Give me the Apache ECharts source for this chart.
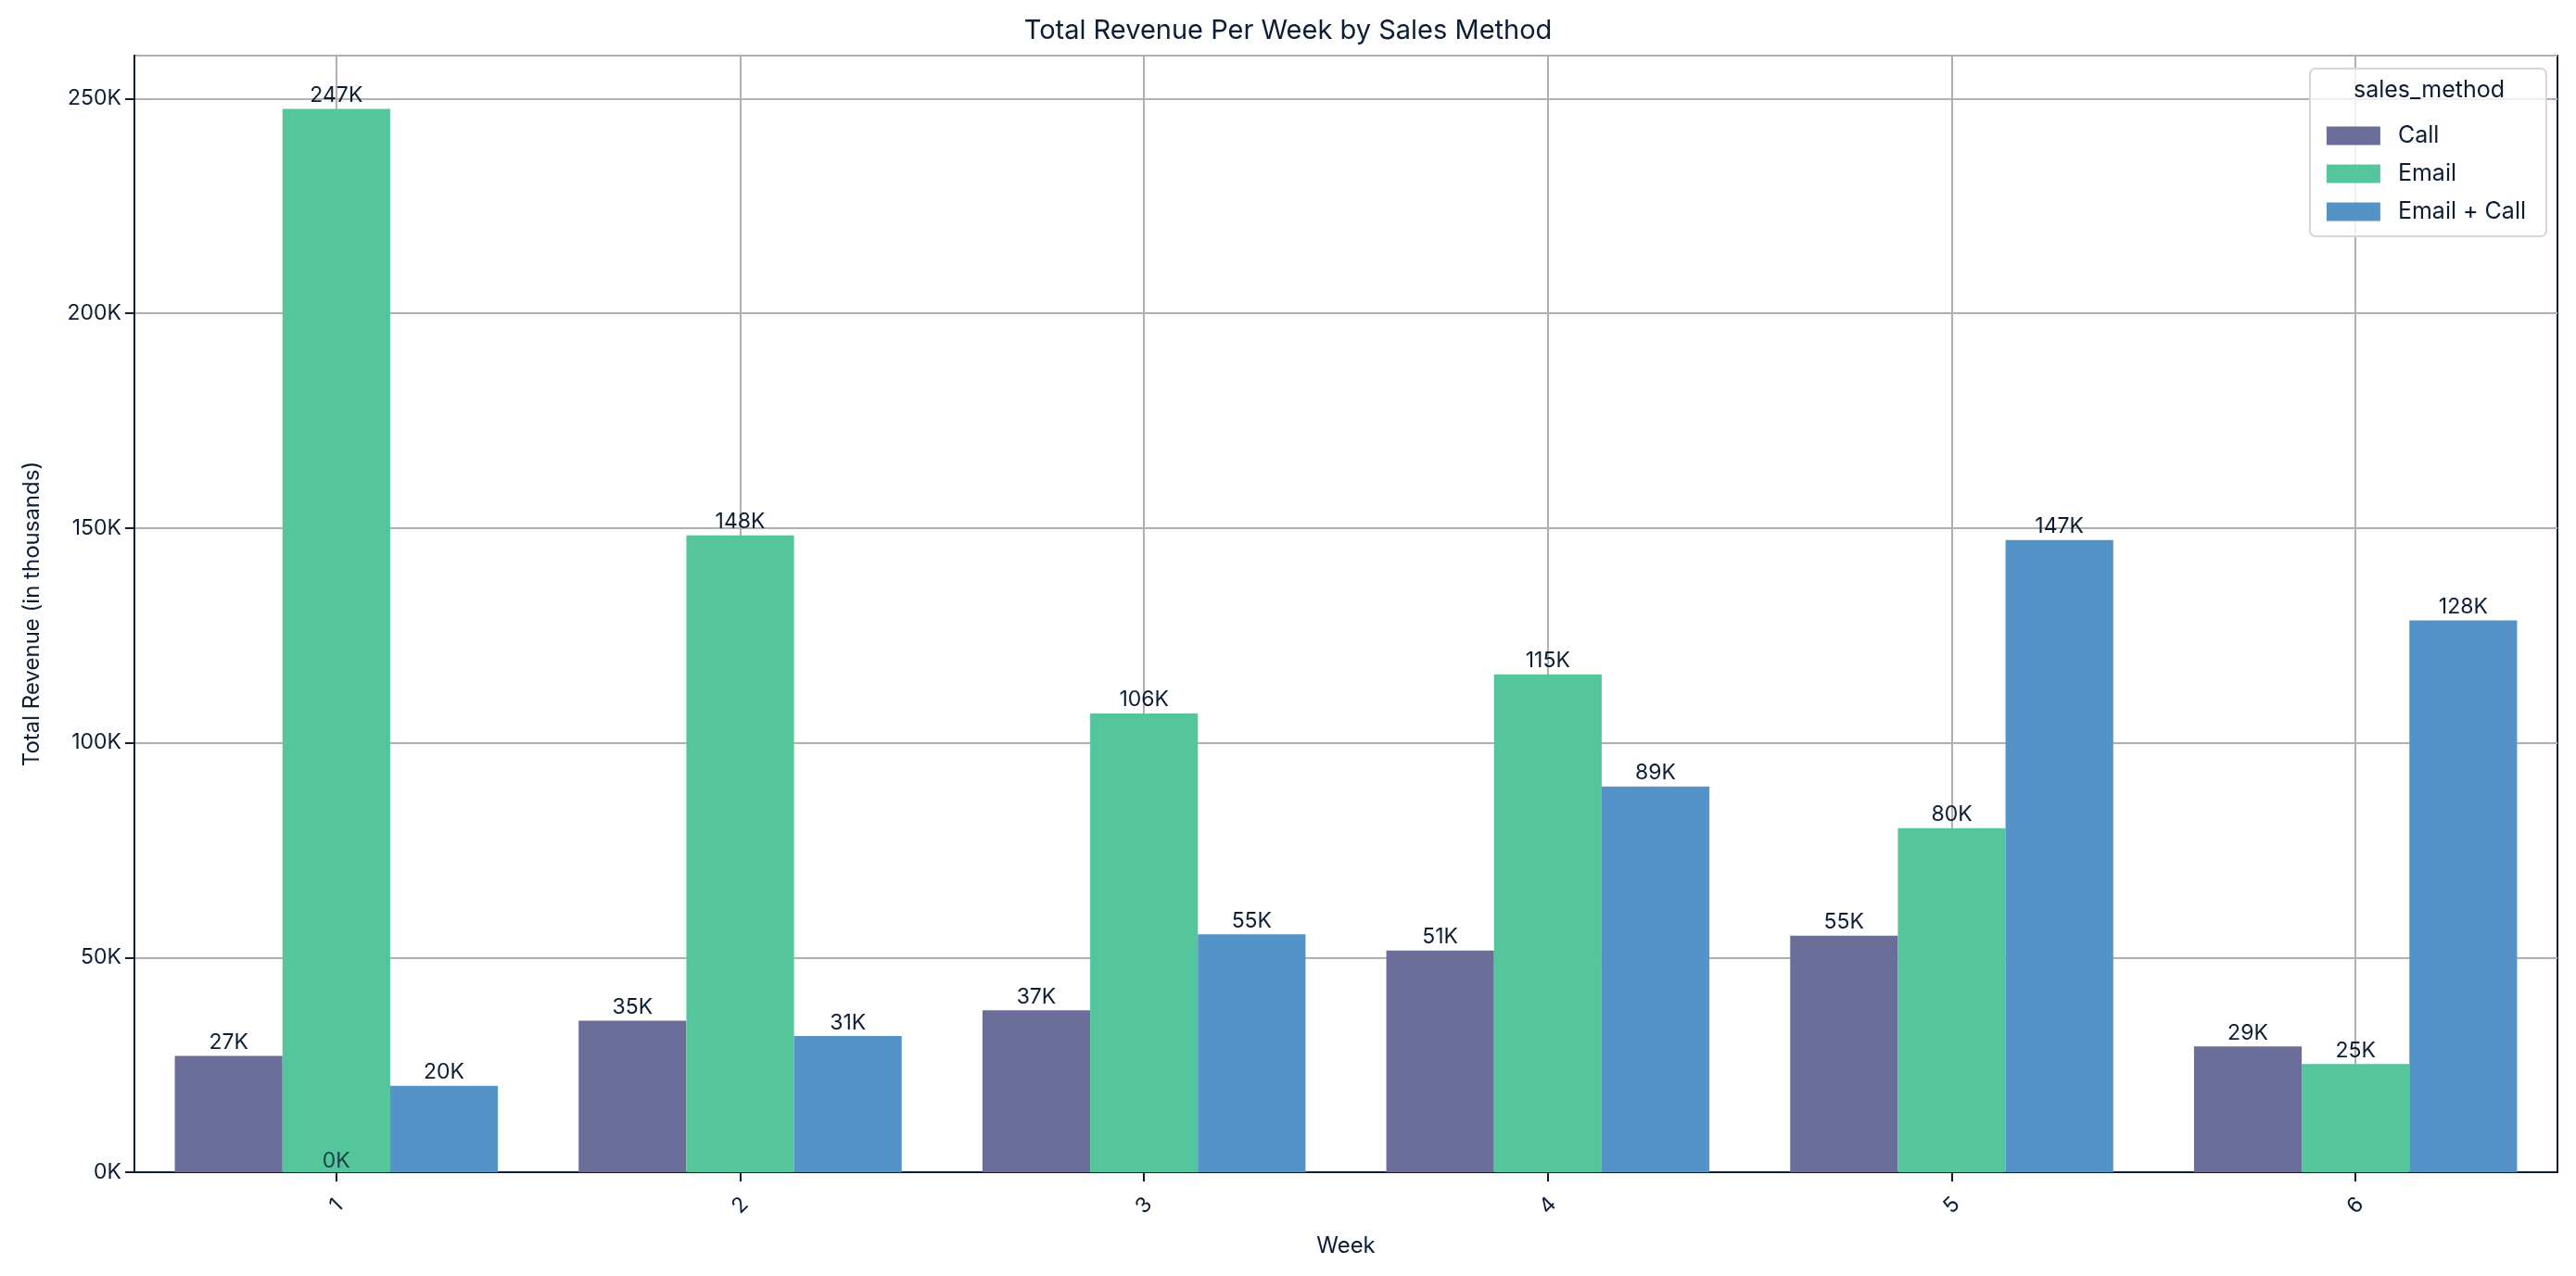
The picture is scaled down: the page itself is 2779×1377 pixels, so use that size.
<!DOCTYPE html>
<html>
<head>
<meta charset="utf-8">
<script src="https://cdn.jsdelivr.net/npm/echarts@6/dist/echarts.min.js"></script>
<style>
html,body{margin:0;padding:0;background:#fff;}
#chart{width:2779px;height:1377px;}
</style>
</head>
<body>
<div id="chart"></div>
<script>
const weeks = ['1', '2', '3', '4', '5', '6'];
const seriesNames = ['Call', 'Email', 'Email + Call'];
const callRevenue = [27100, 35300, 37700, 51600, 55100, 29300];
const emailRevenue = [247600, 148300, 106800, 115900, 80100, 25200];
const emailCallRevenue = [20100, 31700, 55400, 89800, 147200, 128500];
const zeroLabelPoints = [0, null, null, null, null, null];

const colors = ['#6C6E9A', '#55C59C', '#5493C7'];
const textColor = '#0B1D35';
const fontFamily = 'Inter, "Noto Sans", sans-serif';
const fmtK = v => Math.floor(v / 1000) + 'K';

const labelOpt = {
  show: true, position: 'top', distance: 3,
  color: textColor, fontSize: 23, fontFamily: fontFamily,
  formatter: p => fmtK(p.value)
};

const chart = echarts.init(document.getElementById('chart'));
chart.setOption({
  animation: false,
  backgroundColor: '#ffffff',
  textStyle: { fontFamily: fontFamily, color: textColor },
  title: [
    { text: 'Total Revenue Per Week by Sales Method', left: 'center', top: 14,
      textStyle: { fontSize: 29, fontWeight: 'normal', color: textColor, fontFamily: fontFamily } },
    { text: 'sales_method', right: 72, top: 80,
      textStyle: { fontSize: 25, fontWeight: 'normal', color: textColor, fontFamily: fontFamily } }
  ],
  legend: {
    data: seriesNames,
    orient: 'vertical',
    right: 32, top: 74,
    padding: [60, 22, 14, 18],
    itemGap: 16,
    itemWidth: 58, itemHeight: 20,
    icon: 'rect',
    backgroundColor: 'rgba(255,255,255,0.8)',
    borderColor: '#D6D6D6', borderWidth: 2, borderRadius: 6,
    textStyle: { fontSize: 25, color: textColor, fontFamily: fontFamily, padding: [0, 0, 0, 14] }
  },
  grid: {
    left: 145, right: 20, top: 60, bottom: 112,
    show: true, borderColor: '#0E1E33', borderWidth: 2, backgroundColor: 'transparent'
  },
  xAxis: {
    type: 'category',
    data: weeks,
    name: 'Week',
    nameLocation: 'middle',
    nameGap: 68,
    nameTextStyle: { fontSize: 24, color: textColor, fontFamily: fontFamily },
    axisLine: { show: true, lineStyle: { color: '#0E1E33', width: 2 } },
    axisTick: { show: true, alignWithLabel: true, length: 10, lineStyle: { color: '#0E1E33', width: 2 } },
    axisLabel: { rotate: 45, align: 'center', verticalAlign: 'middle', fontSize: 23, color: textColor, margin: 36 },
    splitLine: { show: true, alignWithLabel: true, lineStyle: { color: '#B0B0B0', width: 2 } }
  },
  yAxis: {
    type: 'value',
    min: 0, max: 260000, interval: 50000,
    name: 'Total Revenue (in thousands)',
    nameLocation: 'middle',
    nameGap: 98,
    nameTextStyle: { fontSize: 24, color: textColor, fontFamily: fontFamily },
    axisLine: { show: true, lineStyle: { color: '#0E1E33', width: 2 } },
    axisTick: { show: true, length: 10, lineStyle: { color: '#0E1E33', width: 2 } },
    axisLabel: { fontSize: 23, color: textColor, margin: 14, showMaxLabel: false, formatter: v => (v / 1000) + 'K' },
    splitLine: { show: true, lineStyle: { color: '#B0B0B0', width: 2 } }
  },
  series: [
    { name: seriesNames[0], type: 'bar', data: callRevenue, barGap: '0%', barCategoryGap: '20%',
      itemStyle: { color: colors[0] }, label: labelOpt, z: 2 },
    { name: seriesNames[1], type: 'bar', data: emailRevenue, barGap: '0%', barCategoryGap: '20%',
      itemStyle: { color: colors[1] }, label: labelOpt, z: 2 },
    { name: seriesNames[2], type: 'bar', data: emailCallRevenue, barGap: '0%', barCategoryGap: '20%',
      itemStyle: { color: colors[2] }, label: labelOpt, z: 2 },
    { name: 'zero', type: 'scatter', data: zeroLabelPoints, symbolSize: 0, silent: true, z: 5,
      label: Object.assign({}, labelOpt, { distance: 0 }) }
  ]
});
</script>
</body>
</html>
